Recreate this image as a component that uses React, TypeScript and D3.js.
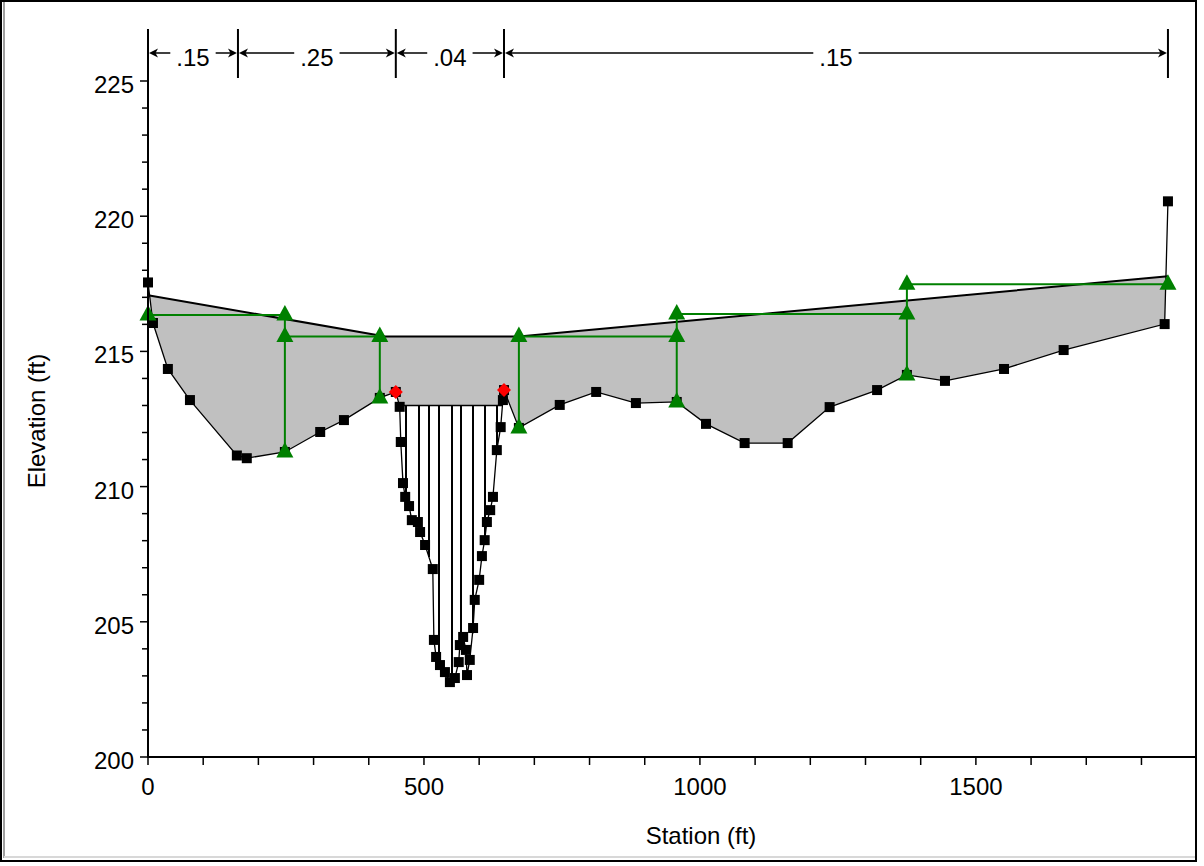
import React from 'react';
import * as d3 from 'd3';

// ---------- data ----------
const groundStation = [
  0, 9, 36, 76, 161, 179, 248, 312, 355, 420, 449, 456, 458, 462, 466, 473, 478, 489, 493, 502,
  516, 518, 522, 529, 538, 547, 556, 563, 565, 571, 576, 578, 583, 589, 592, 600, 605, 610, 614,
  620, 625, 632, 639, 643, 645, 672, 746, 812, 884, 958, 1011, 1081, 1159, 1235, 1321, 1375, 1444,
  1551, 1659, 1842, 1848,
];
const groundElev = [
  217.55, 216.05, 214.35, 213.2, 211.15, 211.05, 211.28, 212.02, 212.46, 213.28, 213.5, 212.95,
  211.65, 210.13, 209.62, 209.28, 208.76, 208.69, 208.32, 207.84, 206.95, 204.33, 203.7, 203.4,
  203.14, 202.77, 202.92, 203.51, 204.14, 204.44, 203.96, 203.03, 203.59, 204.77, 205.81, 206.55,
  207.43, 208.02, 208.69, 209.13, 209.62, 211.35, 212.2, 213.2, 213.57, 212.17, 213.02, 213.5,
  213.09, 213.13, 212.32, 211.61, 211.61, 212.94, 213.57, 214.13, 213.91, 214.35, 215.05, 216.01,
  220.55,
];
const bankStation = [449, 645];
const bankElev = [213.5, 213.57];

const wsStation = [0, 430, 672, 1848];
const wsElev = [217.08, 215.55, 215.55, 217.78];

const channelFillElev = 213.0;
const channelFillFrom = 456;
const channelFillTo = 643;
const hatchStations = [467, 491, 509, 527, 550, 568, 588, 610, 632];

const ineffFrom = [0, 248, 672, 958, 1375];
const ineffTo = [248, 420, 958, 1375, 1848];
const ineffElev = [216.35, 215.55, 215.55, 216.38, 217.48];
const wallStation = [248, 420, 672, 958, 1375];
const wallTop = [216.35, 215.55, 215.55, 216.38, 217.48];
const wallBottom = [211.28, 213.28, 212.17, 213.13, 214.13];

const nBreaks = [0, 163, 449, 645, 1848];
const nLabels = ['.15', '.25', '.04', '.15'];

const yMajorTicks = [200, 205, 210, 215, 220, 225];
const xMajorTicks = [0, 500, 1000, 1500];

// ---------- layout ----------
const W = 1204;
const H = 866;
const FONT = '"Liberation Sans", Arial, sans-serif';
const FS = 24;

const x = d3.scaleLinear().domain([0, 1897]).range([148, 1195]);
const y = d3.scaleLinear().domain([200, 225]).range([757, 81]);

function groundAt(s: number): number {
  for (let i = 0; i < groundStation.length - 1; i++) {
    const a = groundStation[i];
    const b = groundStation[i + 1];
    if (s >= a && s <= b) {
      const t = b === a ? 0 : (s - a) / (b - a);
      return groundElev[i] + t * (groundElev[i + 1] - groundElev[i]);
    }
  }
  return groundElev[groundElev.length - 1];
}

function textW(t: string) {
  let w = 0;
  for (const ch of t) w += ch === '.' ? 0.278 : 0.556;
  return w * FS;
}

export default function App() {
  const ground = groundStation.map((s, i) => [s, groundElev[i]] as [number, number]);
  const ws = wsStation.map((s, i) => [s, wsElev[i]] as [number, number]);

  const line = d3
    .line<[number, number]>()
    .x((d) => x(d[0]))
    .y((d) => y(d[1]));

  const effGround: [number, number][] = [];
  ground.forEach((p) => {
    if (p[0] < channelFillFrom) effGround.push(p);
  });
  effGround.push([channelFillFrom, channelFillElev]);
  effGround.push([channelFillTo, channelFillElev]);
  ground.forEach((p) => {
    if (p[0] > channelFillTo) effGround.push(p);
  });
  const topY = 20;
  const clipPath =
    line(effGround)! +
    `L${x(effGround[effGround.length - 1][0])},${topY}L${x(effGround[0][0])},${topY}Z`;

  const wsArea = d3
    .area<[number, number]>()
    .x((d) => x(d[0]))
    .y0(y(200))
    .y1((d) => y(d[1]));

  const triKeys = new Set<string>();
  const tris: [number, number][] = [];
  const addTri = (s: number, e: number) => {
    const k = s + '_' + e;
    if (!triKeys.has(k)) {
      triKeys.add(k);
      tris.push([s, e]);
    }
  };
  ineffFrom.forEach((f, i) => {
    addTri(f, ineffElev[i]);
    addTri(ineffTo[i], ineffElev[i]);
  });
  wallStation.forEach((s, i) => addTri(s, wallBottom[i]));

  const green = '#008000';
  const bracketY = 53;

  const yMinor = d3.range(200, 226, 1);
  const xMinor = d3.range(0, 1897, 100);

  return (
    <svg
      width={W}
      height={H}
      style={{ position: 'absolute', left: 0, top: 0, background: '#fff' }}
      fontFamily={FONT}
    >
      <defs>
        <clipPath id="aboveGround">
          <path d={clipPath} />
        </clipPath>
      </defs>
      <rect x={0} y={0} width={W} height={H} fill="#fff" />

      {/* water fill */}
      <path d={wsArea(ws)!} fill="#c0c0c0" clipPath="url(#aboveGround)" />

      {/* channel hatch */}
      {hatchStations.map((s, i) => (
        <line
          key={'h' + i}
          x1={Math.round(x(s))}
          x2={Math.round(x(s))}
          y1={y(channelFillElev)}
          y2={y(groundAt(s))}
          stroke="#000"
          strokeWidth={2}
        />
      ))}
      <line
        x1={x(channelFillFrom)}
        x2={x(channelFillTo)}
        y1={y(channelFillElev)}
        y2={y(channelFillElev)}
        stroke="#000"
        strokeWidth={1.5}
      />

      {/* water surface */}
      <path d={line(ws)!} fill="none" stroke="#000" strokeWidth={2} />

      {/* ground */}
      <path d={line(ground)!} fill="none" stroke="#000" strokeWidth={1.3} />

      {/* ineffective flow lines */}
      {ineffFrom.map((f, i) => (
        <line
          key={'ih' + i}
          x1={x(f)}
          x2={x(ineffTo[i])}
          y1={y(ineffElev[i])}
          y2={y(ineffElev[i])}
          stroke={green}
          strokeWidth={2}
        />
      ))}
      {wallStation.map((s, i) => (
        <line
          key={'iv' + i}
          x1={x(s)}
          x2={x(s)}
          y1={y(wallTop[i])}
          y2={y(wallBottom[i])}
          stroke={green}
          strokeWidth={2}
        />
      ))}

      {/* ground points */}
      {ground.map((p, i) => (
        <rect key={'g' + i} x={x(p[0]) - 5} y={y(p[1]) - 5} width={10} height={10} fill="#000" />
      ))}

      {/* bank stations */}
      {bankStation.map((s, i) => {
        const cx = x(s);
        const cy = y(bankElev[i]);
        return (
          <path
            key={'b' + i}
            d={`M${cx},${cy - 7}L${cx + 7},${cy}L${cx},${cy + 7}L${cx - 7},${cy}Z`}
            fill="#ff0000"
          />
        );
      })}

      {/* triangles */}
      {tris.map((p, i) => {
        const cx = x(p[0]);
        const cy = y(p[1]);
        return (
          <path
            key={'t' + i}
            d={`M${cx},${cy - 10}L${cx + 8.5},${cy + 5.5}L${cx - 8.5},${cy + 5.5}Z`}
            fill={green}
          />
        );
      })}

      {/* axes */}
      <line x1={148} x2={148} y1={29} y2={758} stroke="#000" strokeWidth={2} />
      <line x1={147} x2={1195} y1={757} y2={757} stroke="#000" strokeWidth={2} />
      {yMinor.map((v) => (
        <line
          key={'ym' + v}
          x1={v % 5 === 0 ? 140 : 142}
          x2={148}
          y1={y(v)}
          y2={y(v)}
          stroke="#000"
          strokeWidth={1.5}
        />
      ))}
      {yMajorTicks.map((v) => (
        <text key={'yl' + v} x={134} y={y(v) + 12} fontSize={FS} textAnchor="end" fill="#000">
          {v}
        </text>
      ))}
      {xMinor.map((v) => (
        <line
          key={'xm' + v}
          x1={x(v)}
          x2={x(v)}
          y1={757}
          y2={765}
          stroke="#000"
          strokeWidth={1.5}
        />
      ))}
      {xMajorTicks.map((v) => (
        <text key={'xl' + v} x={x(v)} y={795} fontSize={FS} textAnchor="middle" fill="#000">
          {v}
        </text>
      ))}
      <text x={701} y={844} fontSize={FS} textAnchor="middle" fill="#000">
        Station (ft)
      </text>
      <text
        transform={`translate(45,421) rotate(-90)`}
        fontSize={FS}
        textAnchor="middle"
        fill="#000"
      >
        Elevation (ft)
      </text>

      {/* Manning's n bracket */}
      {nBreaks.map((s, i) => (
        <line
          key={'nb' + i}
          x1={x(s)}
          x2={x(s)}
          y1={29}
          y2={78}
          stroke="#000"
          strokeWidth={2}
        />
      ))}
      {nLabels.map((t, i) => {
        const a = x(nBreaks[i]);
        const b = x(nBreaks[i + 1]);
        const m = (a + b) / 2;
        const w = textW(t);
        return (
          <g key={'nl' + i}>
            <line x1={a + 3} x2={m - w / 2 - 6} y1={bracketY} y2={bracketY} stroke="#000" strokeWidth={1.5} />
            <line x1={m + w / 2 + 6} x2={b - 3} y1={bracketY} y2={bracketY} stroke="#000" strokeWidth={1.5} />
            <path
              d={`M${a + 1},${bracketY}L${a + 10},${bracketY - 4.5}L${a + 7.5},${bracketY}L${a + 10},${bracketY + 4.5}Z`}
              fill="#000"
            />
            <path
              d={`M${b - 1},${bracketY}L${b - 10},${bracketY - 4.5}L${b - 7.5},${bracketY}L${b - 10},${bracketY + 4.5}Z`}
              fill="#000"
            />
            <text x={m} y={66} fontSize={FS} textAnchor="middle" fill="#000">
              {t}
            </text>
          </g>
        );
      })}

      {/* window frame */}
      <line x1={4} x2={4} y1={2} y2={858} stroke="#a0a0a0" strokeWidth={2} />
      <line x1={4} x2={1195} y1={857} y2={857} stroke="#d8d8d8" strokeWidth={2} />
      <rect x={1} y={1} width={1195} height={860} fill="none" stroke="#000" strokeWidth={2} />
      <rect x={1197} y={0} width={7} height={H} fill="#fff" />
    </svg>
  );
}
